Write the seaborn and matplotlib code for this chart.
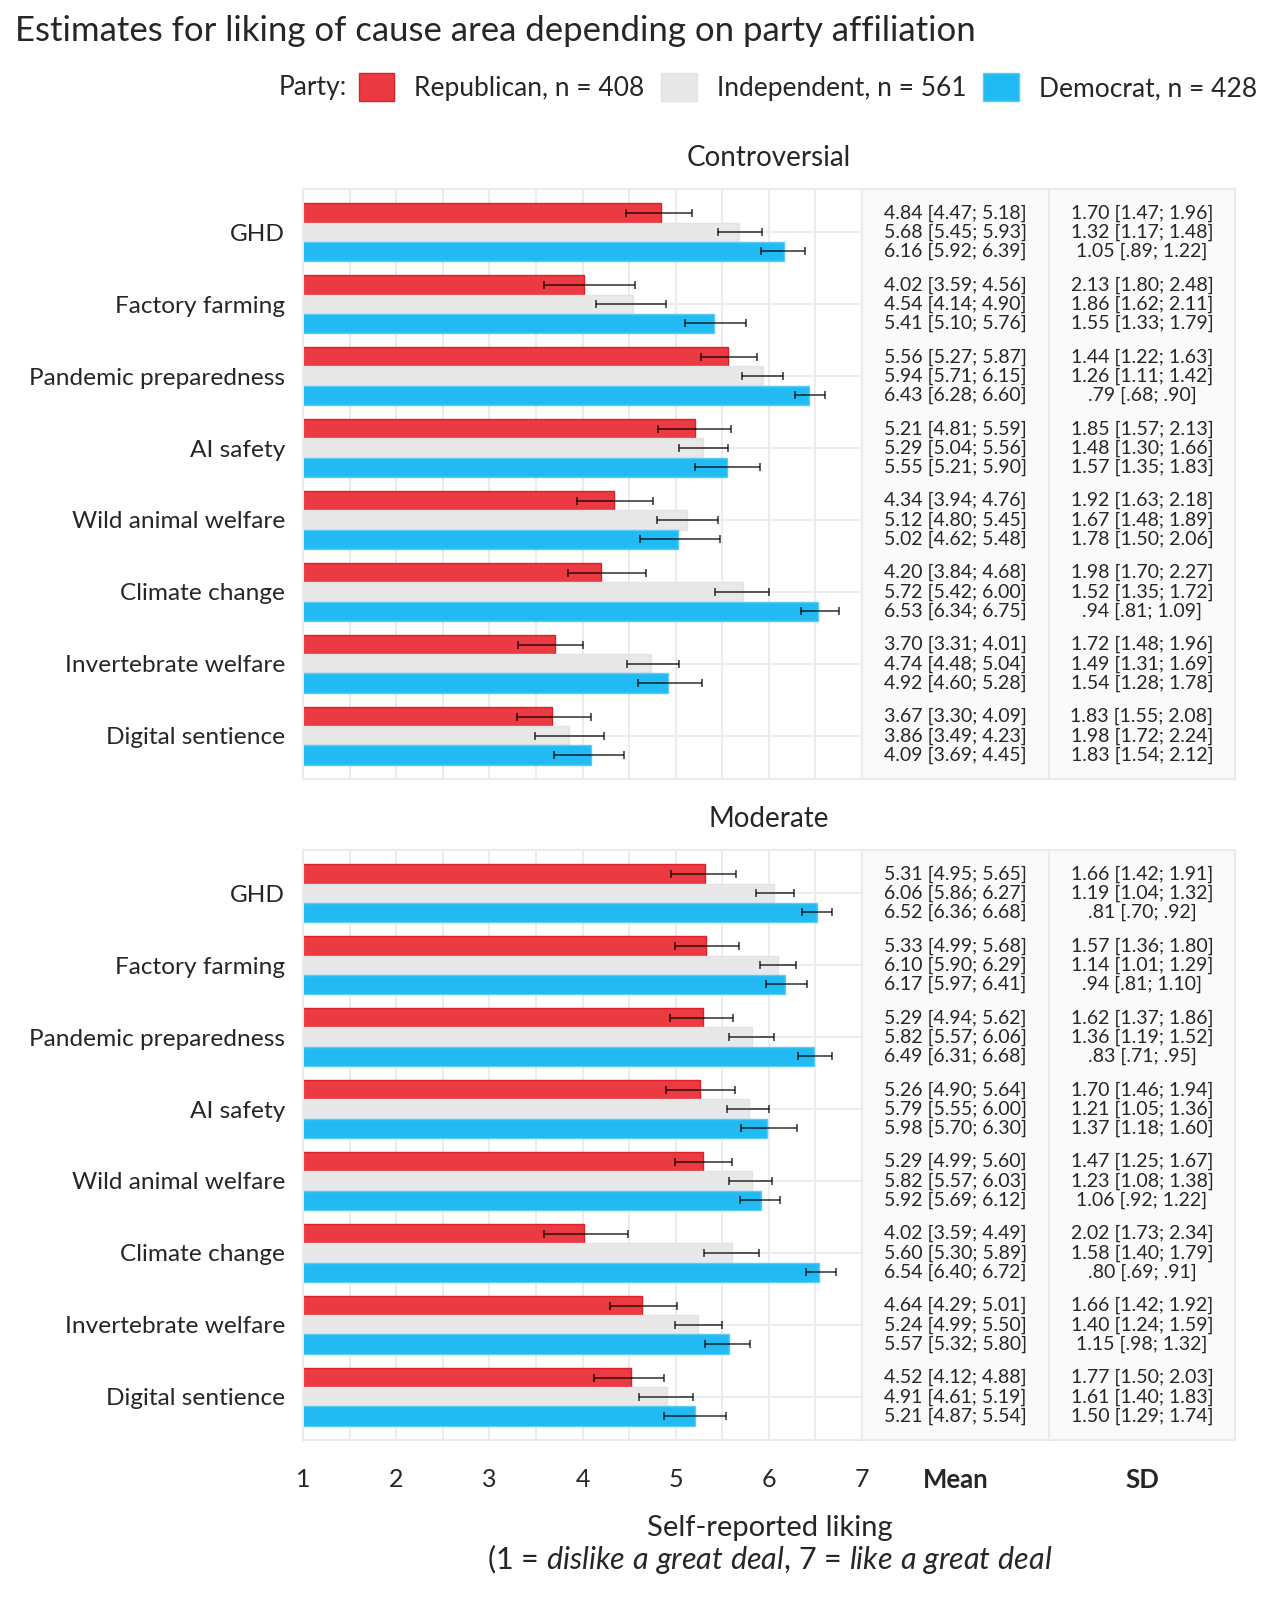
import numpy as np
import pandas as pd
import seaborn as sns
import matplotlib.pyplot as plt
from matplotlib.patches import Patch

causes = ["GHD", "Factory farming", "Pandemic preparedness", "AI safety",
          "Wild animal welfare", "Climate change", "Invertebrate welfare",
          "Digital sentience"]
parties = ["Republican, n = 408", "Independent, n = 561", "Democrat, n = 428"]
party_colors = ["#EC3A42", "#E8E8E8", "#22BAF2"]
edge_colors = ["#DD1F29", "#E3E3E3", "#5CCBF4"]

# one row per cause; columns = Republican, Independent, Democrat
contr_mean = [[4.84, 5.68, 6.16], [4.02, 4.54, 5.41], [5.56, 5.94, 6.43], [5.21, 5.29, 5.55],
              [4.34, 5.12, 5.02], [4.20, 5.72, 6.53], [3.70, 4.74, 4.92], [3.67, 3.86, 4.09]]
contr_lo = [[4.47, 5.45, 5.92], [3.59, 4.14, 5.10], [5.27, 5.71, 6.28], [4.81, 5.04, 5.21],
            [3.94, 4.80, 4.62], [3.84, 5.42, 6.34], [3.31, 4.48, 4.60], [3.30, 3.49, 3.69]]
contr_hi = [[5.18, 5.93, 6.39], [4.56, 4.90, 5.76], [5.87, 6.15, 6.60], [5.59, 5.56, 5.90],
            [4.76, 5.45, 5.48], [4.68, 6.00, 6.75], [4.01, 5.04, 5.28], [4.09, 4.23, 4.45]]
contr_sd = [[1.70, 1.32, 1.05], [2.13, 1.86, 1.55], [1.44, 1.26, 0.79], [1.85, 1.48, 1.57],
            [1.92, 1.67, 1.78], [1.98, 1.52, 0.94], [1.72, 1.49, 1.54], [1.83, 1.98, 1.83]]
contr_sd_lo = [[1.47, 1.17, 0.89], [1.80, 1.62, 1.33], [1.22, 1.11, 0.68], [1.57, 1.30, 1.35],
               [1.63, 1.48, 1.50], [1.70, 1.35, 0.81], [1.48, 1.31, 1.28], [1.55, 1.72, 1.54]]
contr_sd_hi = [[1.96, 1.48, 1.22], [2.48, 2.11, 1.79], [1.63, 1.42, 0.90], [2.13, 1.66, 1.83],
               [2.18, 1.89, 2.06], [2.27, 1.72, 1.09], [1.96, 1.69, 1.78], [2.08, 2.24, 2.12]]

mod_mean = [[5.31, 6.06, 6.52], [5.33, 6.10, 6.17], [5.29, 5.82, 6.49], [5.26, 5.79, 5.98],
            [5.29, 5.82, 5.92], [4.02, 5.60, 6.54], [4.64, 5.24, 5.57], [4.52, 4.91, 5.21]]
mod_lo = [[4.95, 5.86, 6.36], [4.99, 5.90, 5.97], [4.94, 5.57, 6.31], [4.90, 5.55, 5.70],
          [4.99, 5.57, 5.69], [3.59, 5.30, 6.40], [4.29, 4.99, 5.32], [4.12, 4.61, 4.87]]
mod_hi = [[5.65, 6.27, 6.68], [5.68, 6.29, 6.41], [5.62, 6.06, 6.68], [5.64, 6.00, 6.30],
          [5.60, 6.03, 6.12], [4.49, 5.89, 6.72], [5.01, 5.50, 5.80], [4.88, 5.19, 5.54]]
mod_sd = [[1.66, 1.19, 0.81], [1.57, 1.14, 0.94], [1.62, 1.36, 0.83], [1.70, 1.21, 1.37],
          [1.47, 1.23, 1.06], [2.02, 1.58, 0.80], [1.66, 1.40, 1.15], [1.77, 1.61, 1.50]]
mod_sd_lo = [[1.42, 1.04, 0.70], [1.36, 1.01, 0.81], [1.37, 1.19, 0.71], [1.46, 1.05, 1.18],
             [1.25, 1.08, 0.92], [1.73, 1.40, 0.69], [1.42, 1.24, 0.98], [1.50, 1.40, 1.29]]
mod_sd_hi = [[1.91, 1.32, 0.92], [1.80, 1.29, 1.10], [1.86, 1.52, 0.95], [1.94, 1.36, 1.60],
             [1.67, 1.38, 1.22], [2.34, 1.79, 0.91], [1.92, 1.59, 1.32], [2.03, 1.83, 1.74]]

sns.set_theme(style="white")
plt.rcParams["font.family"] = ["Lato", "DejaVu Sans"]
plt.rcParams["mathtext.fontset"] = "custom"
plt.rcParams["mathtext.rm"] = "Lato"
plt.rcParams["mathtext.it"] = "Lato:italic"

W, H = 1280, 1600
GRID = "#EBEBEB"


def rect(left, top, right, bottom):
    return [left / W, 1 - bottom / H, (right - left) / W, (bottom - top) / H]


def fmt(v):
    s = f"{v:.2f}"
    return s[1:] if s.startswith("0") else s


def draw_panel(fig, top, title, mean, lo, hi, sd, sd_lo, sd_hi, bottom=False):
    bot = top + 590
    rows = []
    for j, c in enumerate(causes):
        for i, p in enumerate(parties):
            rows.append({"cause": c, "party": p, "mean": mean[j][i]})
    df = pd.DataFrame(rows)

    ax = fig.add_axes(rect(303, top, 862, bot))
    sns.barplot(data=df, x="mean", y="cause", hue="party", order=causes,
                hue_order=parties, palette=dict(zip(parties, party_colors)),
                orient="h", width=0.8, saturation=1, errorbar=None,
                legend=False, ax=ax, zorder=2)

    axm = fig.add_axes(rect(862, top, 1049, bot))
    axs = fig.add_axes(rect(1049, top, 1235, bot))

    bar_groups = list(ax.containers)
    for i, cont in enumerate(bar_groups):
        for bar in cont:
            bar.set_edgecolor(edge_colors[i])
            bar.set_linewidth(1.0)
            yc = bar.get_y() + bar.get_height() / 2
            j = int(round(yc))
            m = mean[j][i]
            ax.errorbar(m, yc, xerr=[[m - lo[j][i]], [hi[j][i] - m]], fmt="none",
                        ecolor="black", elinewidth=1.2, capsize=3, capthick=1.2,
                        alpha=0.75, zorder=3)
            axm.text(0.5, yc, f"{fmt(m)} [{fmt(lo[j][i])}; {fmt(hi[j][i])}]",
                     ha="center", va="center", fontsize=14)
            axs.text(0.5, yc, f"{fmt(sd[j][i])} [{fmt(sd_lo[j][i])}; {fmt(sd_hi[j][i])}]",
                     ha="center", va="center", fontsize=14)

    ax.set_xlim(1, 7)
    ax.set_ylim(len(causes) - 0.4, -0.6)
    ax.set_xticks(range(1, 8))
    ax.set_xticks(np.arange(1.5, 7, 1), minor=True)
    ax.grid(which="both", axis="x", color=GRID, lw=1.3)
    ax.grid(which="major", axis="y", color=GRID, lw=1.3)
    ax.set_axisbelow(True)
    ax.set_xlabel("")
    ax.set_ylabel("")
    ax.tick_params(axis="y", length=0, pad=13, labelsize=17.6)
    ax.tick_params(axis="x", which="both", length=0, pad=20, labelsize=18)
    if not bottom:
        ax.set_xticklabels([])

    for a, lab in ((axm, "Mean"), (axs, "SD")):
        a.set_facecolor("#FAFAFA")
        a.set_xlim(0, 1)
        a.set_ylim(ax.get_ylim())
        a.set_yticks([])
        a.set_xticks([0.5])
        a.tick_params(axis="x", length=0, pad=20, labelsize=18.5)
        if bottom:
            a.set_xticklabels([lab], fontweight="bold")
        else:
            a.set_xticklabels([])

    for a in (ax, axm, axs):
        for s in a.spines.values():
            s.set_color(GRID)
            s.set_linewidth(1.5)

    fig.text(769 / W, 1 - (top - 31) / H, title, ha="center", va="center", fontsize=20)


fig = plt.figure(figsize=(W / 100, H / 100), dpi=100)

draw_panel(fig, 189, "Controversial", contr_mean, contr_lo, contr_hi,
           contr_sd, contr_sd_lo, contr_sd_hi)
draw_panel(fig, 850, "Moderate", mod_mean, mod_lo, mod_hi,
           mod_sd, mod_sd_lo, mod_sd_hi, bottom=True)

fig.text(15 / W, 1 - 31 / H,
         "Estimates for liking of cause area depending on party affiliation",
         ha="left", va="center", fontsize=25)

handles = [Patch(facecolor=c, edgecolor=e) for c, e in zip(party_colors, edge_colors)]
fig.legend(handles, parties, loc="center right", bbox_to_anchor=(1257 / W, 1 - 87 / H),
           ncol=3, frameon=False, fontsize=19, handlelength=1.35, handleheight=1.25,
           handletextpad=0.75, columnspacing=0.65, borderpad=0, borderaxespad=0)
fig.text(347 / W, 1 - 87 / H, "Party:", ha="right", va="center", fontsize=19)

fig.text(770 / W, 1 - 1528 / H, "Self-reported liking", ha="center", va="center", fontsize=21)
fig.text(770 / W, 1 - 1559 / H,
         r"(1 = $\mathit{dislike\ a\ great\ deal}$, 7 = $\mathit{like\ a\ great\ deal}$",
         ha="center", va="center", fontsize=22)

fig.savefig("out.png", dpi=100)
